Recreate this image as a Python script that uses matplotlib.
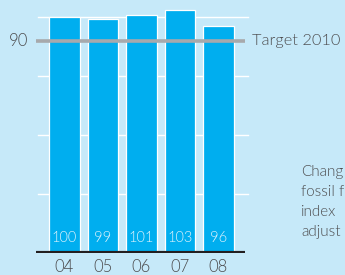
import matplotlib
matplotlib.use("Agg")
import matplotlib.pyplot as plt

years = ["04", "05", "06", "07", "08"]
values = [100, 99, 101, 103, 96]
target = 90
target_label = "Target 2010"
grid_vals = [25, 50, 75, 100]
side_text = ["Chang", "fossil f", "index", "adjust"]

BG = "#c6e9f9"
BAR = "#00aeef"
TXT = "#4d4d4f"
W, H = 345, 275
fig = plt.figure(figsize=(W / 100, H / 100), dpi=100, facecolor=BG)

ax_left, ax_right = 36, 245
base_y, top_y = 253, 3
ax = fig.add_axes([ax_left / W, (H - base_y) / H, (ax_right - ax_left) / W, (base_y - top_y) / H])
ax.set_facecolor(BG)
ymax = (base_y - top_y) / 2.36
ax.set_ylim(0, ymax)
ax.set_xlim(-0.74, 4.69)
for s in ax.spines.values():
    s.set_visible(False)
ax.set_yticks([])
ax.tick_params(axis="x", length=0, pad=4)

fontname = "Lato"
WT = 300
for g in grid_vals:
    ax.axhline(g, color="white", lw=1.0, zorder=1, xmin=0.01, xmax=1.015, clip_on=False)

x = list(range(len(years)))
ax.bar(x, values, width=0.8, color=BAR, edgecolor="white", linewidth=0.9, zorder=2)
for xi, v in zip(x, values):
    ax.text(xi, 3.5, str(v), ha="center", va="bottom", color="#dff3fc", fontsize=10.5,
            family=fontname, fontweight=WT, zorder=4)

ax.axhline(target, color="#a7a9ac", lw=2.6, zorder=3)
ax.axhline(0, color="#231f20", lw=3.0, zorder=5)

ax.set_xticks(x)
ax.set_xticklabels(years, fontsize=12, color=TXT, family=fontname, fontweight=WT)

ax.text(-0.95, target, str(target), ha="right", va="center", fontsize=12, color=TXT,
        family=fontname, fontweight=WT)
ax.text(4.88, target, target_label, ha="left", va="center", fontsize=11.8, color=TXT,
        family=fontname, fontweight=WT, clip_on=False)

for i, line in enumerate(side_text):
    fig.text(301 / W, 1 - (172 + 20 * i) / H, line, ha="left", va="center", fontsize=11,
             color=TXT, family=fontname, fontweight=WT)

fig.savefig("out.png", dpi=100, facecolor=BG)
